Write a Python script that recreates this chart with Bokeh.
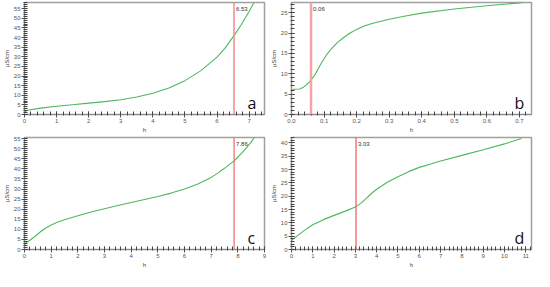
from bokeh.plotting import figure
from bokeh.layouts import gridplot
from bokeh.models import Span, Label, SingleIntervalTicker, NumeralTickFormatter, Range1d
from bokeh.embed import file_html
from bokeh.resources import INLINE

# ---- data ----
a_x = [0, 0.1, 0.5, 1, 1.5, 2, 2.5, 3, 3.5, 4, 4.5, 5, 5.5, 6, 6.25, 6.53, 6.75, 7, 7.15]
a_y = [1.4, 2.2, 3.3, 4.3, 5.1, 5.9, 6.7, 7.7, 9.1, 11.0, 13.8, 17.6, 22.8, 29.8, 34.5, 41.0, 46.5, 53.5, 58.2]
a_mark = 6.53

b_x = [0, 0.005, 0.01, 0.025, 0.035, 0.045, 0.055, 0.06, 0.07, 0.08, 0.09, 0.1, 0.11, 0.12, 0.14,
       0.16, 0.18, 0.2, 0.225, 0.25, 0.3, 0.35, 0.4, 0.5, 0.6, 0.7, 0.71]
b_y = [5.6, 6.1, 6.2, 6.25, 6.6, 7.2, 8.0, 8.5, 9.5, 10.9, 12.4, 13.7, 14.9, 15.9, 17.6,
       18.9, 20.0, 20.9, 21.8, 22.4, 23.4, 24.2, 24.9, 25.9, 26.7, 27.4, 27.5]
b_mark = 0.06

c_x = [0, 0.05, 0.2, 0.4, 0.6, 0.8, 1, 1.25, 1.5, 2, 2.5, 3, 3.5, 4, 4.5, 5, 5.5, 6, 6.5, 7,
       7.25, 7.5, 7.86, 8, 8.25, 8.5, 8.62]
c_y = [2.0, 3.3, 4.6, 6.6, 8.8, 10.7, 12.2, 13.6, 14.8, 16.8, 18.6, 20.2, 21.8, 23.3, 24.8, 26.3,
       28.0, 30.0, 32.5, 35.8, 37.9, 40.3, 44.0, 45.8, 49.3, 53.3, 55.6]
c_mark = 7.86

d_x = [0, 0.25, 0.5, 0.75, 1, 1.5, 2, 2.5, 3, 3.25, 3.5, 3.75, 4, 4.5, 5, 5.5, 6, 6.5, 7, 8, 9, 10, 10.8]
d_y = [3.4, 5.0, 6.5, 8.0, 9.3, 11.2, 12.8, 14.3, 15.9, 17.3, 19.1, 21.0, 22.6, 25.2, 27.3, 29.2,
       30.8, 32.0, 33.2, 35.3, 37.4, 39.6, 41.6]
d_mark = 3.03

panels = [
    dict(x=a_x, y=a_y, mark=a_mark, mark_text="6.53", letter="a", xr=(0, 7.48), yr=(0, 58.2),
         yint=5, xint=1, fmt="0", mark_color="#f28c8c", mark_w=1.5),
    dict(x=b_x, y=b_y, mark=b_mark, mark_text="0.06", letter="b", xr=(0, 0.737), yr=(0, 27.5),
         yint=5, xint=0.1, fmt="0.0", mark_color="#f4a4a4", mark_w=2.5),
    dict(x=c_x, y=c_y, mark=c_mark, mark_text="7.86", letter="c", xr=(0, 9), yr=(0, 55.6),
         yint=5, xint=1, fmt="0", mark_color="#e86a6a", mark_w=1.2),
    dict(x=d_x, y=d_y, mark=d_mark, mark_text="3.03", letter="d", xr=(0, 11.27), yr=(0, 42.0),
         yint=5, xint=1, fmt="0", mark_color="#e65a5a", mark_w=1.2),
]

W, H = 267, 135
figs = []
for pd_ in panels:
    p = figure(width=W, height=H, output_backend="svg", toolbar_location=None,
               x_range=Range1d(*pd_["xr"]), y_range=Range1d(*pd_["yr"]),
               min_border_left=2, min_border_right=3, min_border_top=2, min_border_bottom=1)
    p.xgrid.visible = False
    p.ygrid.visible = False
    p.outline_line_color = "#a0a0a0"
    p.outline_line_width = 1.5
    p.background_fill_color = "white"
    p.border_fill_color = "white"
    p.line(pd_["x"], pd_["y"], line_color="#4cb85c", line_width=1.1)
    p.add_layout(Span(location=pd_["mark"], dimension="height",
                      line_color=pd_["mark_color"], line_width=pd_["mark_w"]))
    xr0, xr1 = pd_["xr"]
    yr0, yr1 = pd_["yr"]
    p.add_layout(Label(x=pd_["mark"], y=yr1, text=pd_["mark_text"], text_font_size="6px",
                       text_color="#333333", x_offset=2, y_offset=-8, text_font="Liberation Sans"))
    p.add_layout(Label(x=xr1, y=yr0, text=pd_["letter"], text_font_size="16px",
                       text_color="#111111", x_offset=-17, y_offset=1, text_font="Open Sans"))
    p.xaxis.ticker = SingleIntervalTicker(interval=pd_["xint"], num_minor_ticks=5)
    p.yaxis.ticker = SingleIntervalTicker(interval=pd_["yint"], num_minor_ticks=5)
    p.xaxis.formatter = NumeralTickFormatter(format=pd_["fmt"])
    p.xaxis.axis_label = "h"
    p.yaxis.axis_label = "µS/cm"
    for ax in (p.xaxis, p.yaxis):
        ax.axis_line_color = "#888888"
        ax.axis_line_width = 1
        ax.major_tick_line_color = "#555555"
        ax.minor_tick_line_color = "#444444"
        ax.minor_tick_line_width = 1
        ax.major_tick_in = 3
        ax.major_tick_out = 3
        ax.minor_tick_in = 3
        ax.minor_tick_out = 1
        ax.major_label_text_font_size = "6px"
        ax.major_label_text_color = "#555555"
        ax.major_label_text_font = "Liberation Sans"
        ax.major_label_standoff = 1
        ax.axis_label_text_font_size = "6px"
        ax.axis_label_text_font_style = "normal"
        ax.axis_label_text_color = "#444444"
        ax.axis_label_text_font = "Liberation Sans"
        ax.axis_label_standoff = 1
    figs.append(p)

grid = gridplot([[figs[0], figs[1]], [figs[2], figs[3]]], toolbar_location=None)
open("out.html", "w").write(file_html(grid, INLINE))
